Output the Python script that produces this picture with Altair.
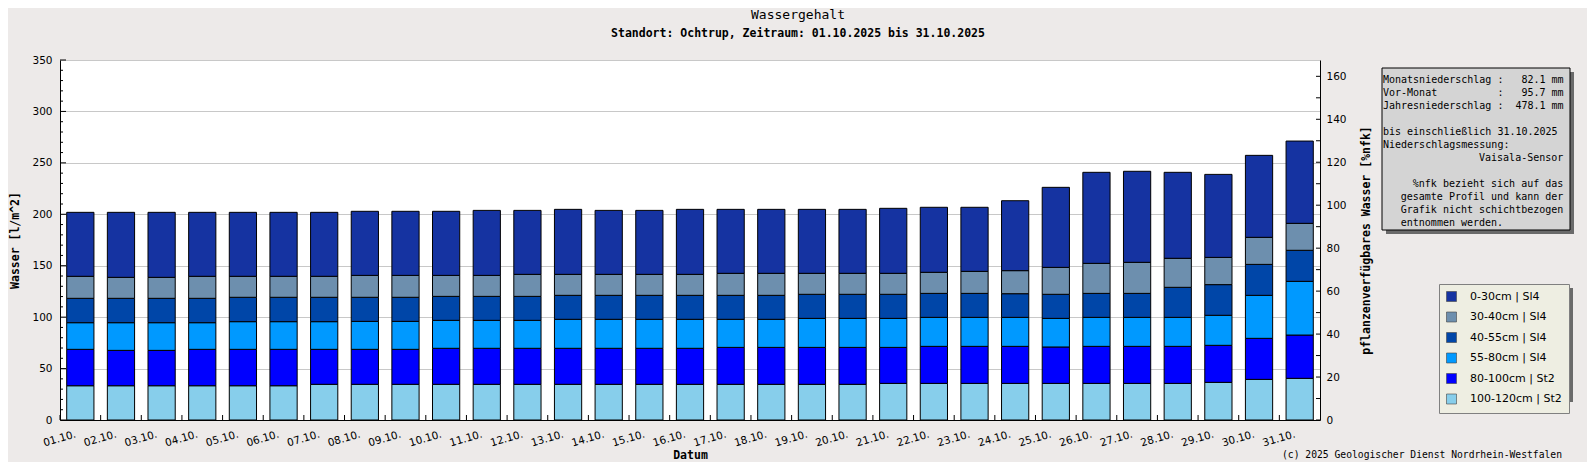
import altair as alt
import pandas as pd

# ---------------- data ----------------
days = ["01.10.", "02.10.", "03.10.", "04.10.", "05.10.", "06.10.", "07.10.", "08.10.",
        "09.10.", "10.10.", "11.10.", "12.10.", "13.10.", "14.10.", "15.10.", "16.10.",
        "17.10.", "18.10.", "19.10.", "20.10.", "21.10.", "22.10.", "23.10.", "24.10.",
        "25.10.", "26.10.", "27.10.", "28.10.", "29.10.", "30.10.", "31.10."]

legend_names = ["0-30cm | Sl4", "30-40cm | Sl4", "40-55cm | Sl4",
                "55-80cm | Sl4", "80-100cm | St2", "100-120cm | St2"]
layer_colors = ["#1533A1", "#6D8FAE", "#0046A8", "#0099FF", "#0000FF", "#87CEEB"]

# water per layer [l/m^2]
l0_30 = [62.2, 63.2, 63.2, 62.2, 62.2, 62.2, 62.2, 62.3, 62.3, 62.3, 63.2, 62.2, 63.2, 62.2, 62.2, 63.2,
         62.2, 62.2, 62.2, 62.2, 63.2, 63.2, 62.3, 68.0, 77.8, 88.5, 88.5, 83.6, 80.7, 79.7, 80.0]
l30_40 = [21.4, 20.4, 20.4, 21.4, 20.4, 20.4, 20.4, 21.3, 21.3, 20.4, 20.4, 21.4, 20.4, 20.4, 20.4, 20.4,
          21.4, 21.4, 20.4, 20.4, 20.4, 20.5, 21.4, 22.4, 26.2, 29.2, 30.2, 28.2, 26.5, 26.3, 26.2]
l40_55 = [23.7, 23.7, 23.7, 23.7, 23.7, 23.7, 23.7, 23.4, 23.4, 23.3, 23.3, 23.3, 23.3, 23.3, 23.3, 23.3,
          23.3, 23.3, 23.4, 23.4, 23.4, 23.3, 23.3, 23.0, 23.4, 23.3, 23.3, 29.2, 29.8, 30.1, 30.2]
l55_80 = [25.9, 26.9, 26.9, 25.9, 26.9, 26.9, 26.9, 27.2, 27.2, 27.2, 27.2, 27.2, 28.2, 28.2, 28.2, 28.2,
          27.3, 27.3, 28.2, 28.2, 28.2, 28.2, 28.2, 28.2, 27.8, 28.2, 28.2, 28.2, 29.2, 41.8, 52.2]
l80_100 = [35.4, 34.4, 34.4, 35.4, 35.4, 35.4, 34.0, 34.0, 34.0, 35.0, 35.0, 35.0, 35.0, 35.0, 35.0, 35.0,
           35.9, 35.9, 35.9, 35.9, 35.0, 36.0, 36.0, 36.0, 35.4, 36.0, 36.0, 36.0, 36.0, 39.9, 42.1]
l100_120 = [33.3, 33.3, 33.3, 33.3, 33.3, 33.3, 34.7, 34.7, 34.7, 34.7, 34.7, 34.7, 34.7, 34.7, 34.7, 34.7,
            34.7, 34.7, 34.7, 34.7, 35.6, 35.6, 35.6, 35.6, 35.6, 35.6, 35.6, 35.6, 36.6, 39.5, 40.5]

left_major = [0, 50, 100, 150, 200, 250, 300, 350]
left_minor = [10, 20, 30, 40, 60, 70, 80, 90, 110, 120, 130, 140, 160, 170, 180, 190,
              210, 220, 230, 240, 260, 270, 280, 290, 310, 320, 330, 340]
right_labels = [0, 20, 40, 60, 80, 100, 120, 140, 160]
right_ticks = [0, 10, 20, 30, 40, 50, 60, 70, 80, 90, 100, 110, 120, 130, 140, 150, 160]

info_block1 = ["Monatsniederschlag :   82.1 mm",
               "Vor-Monat          :   95.7 mm",
               "Jahresniederschlag :  478.1 mm"]
info_block2 = ["bis einschließlich 31.10.2025",
               "Niederschlagsmessung:"]
info_block3 = ["Vaisala-Sensor"]
info_block4 = ["%nfk bezieht sich auf das",
               "gesamte Profil und kann der",
               "Grafik nicht schichtbezogen"]
info_block5 = ["entnommen werden."]

# ---------------- build table ----------------
series_bottom_up = [l100_120, l80_100, l55_80, l40_55, l30_40, l0_30]
names_bottom_up = legend_names[::-1]
rows = []
for i, d in enumerate(days):
    for k, (name, vals) in enumerate(zip(names_bottom_up, series_bottom_up)):
        rows.append({"day": d, "layer": name, "value": vals[i], "ord": k})
df = pd.DataFrame(rows)

W, H = 1260, 360
STEP = W / len(days)
MONO = "DejaVu Sans Mono"
SANS = "DejaVu Sans"

x_scale = alt.Scale(domain=days, paddingInner=0, paddingOuter=0)
y_scale = alt.Scale(domain=[0, 350], nice=False, zero=True)
y2_scale = alt.Scale(domain=[0, 167.6], nice=False, zero=True)


def make_x_axis():
    return alt.Axis(
        title="Datum", labelAngle=344, labelAlign="right", labelBaseline="top",
        labelOffset=-6, labelPadding=9, ticks=False, grid=False, domainColor="black",
        labelFont=SANS, labelFontSize=10.5, labelColor="black", labelOverlap=False,
        titleFont=MONO, titleFontWeight="bold", titleFontSize=11.5, titleColor="black",
        titleY=38, titleBaseline="alphabetic",
    )


y_axis = alt.Axis(
    title="Wasser [l/m^2]", values=left_major, grid=True, gridColor="#C8C8C8",
    ticks=False, domainColor="black", labelFont=SANS, labelFontSize=10.5,
    labelColor="black", labelPadding=8,
    titleFont=MONO, titleFontWeight="bold", titleFontSize=11.5, titleColor="black",
    titleX=-45, titleY=180, titleAngle=270, titleAlign="center", titleBaseline="middle",
)
y2_axis = alt.Axis(
    orient="right", title="pflanzenverfügbares Wasser [%nfk]", values=right_labels,
    grid=False, ticks=False, domainColor="black", labelFont=SANS, labelFontSize=10.5,
    labelColor="black", labelPadding=6,
    titleFont=MONO, titleFontWeight="bold", titleFontSize=11.5, titleColor="black",
    titleX=46.5, titleY=180, titleAngle=270, titleAlign="center", titleBaseline="middle",
)

legend = alt.Legend(
    title=None, orient="none", legendX=1379, legendY=224, fillColor="#EEEEE2",
    strokeColor="#808080", padding=7, symbolType="square", symbolSize=100,
    symbolStrokeWidth=0.6, symbolStrokeColor="#444444", labelFont=SANS,
    labelFontSize=11, labelColor="black", labelOffset=13, rowPadding=7.5,
)

bars = alt.Chart(df).mark_bar(
    width=alt.RelativeBandSize(0.67), stroke="black", strokeWidth=1
).encode(
    x=alt.X("day:N", scale=x_scale, axis=make_x_axis()),
    y=alt.Y("value:Q", stack="zero", scale=y_scale, axis=y_axis),
    color=alt.Color("layer:N", scale=alt.Scale(domain=legend_names, range=layer_colors), legend=legend),
    order=alt.Order("ord:Q", sort="ascending"),
)

x_ticks = alt.Chart(pd.DataFrame({"day": days})).mark_rule(
    color="black", strokeWidth=1, xOffset=-STEP / 2
).encode(
    x=alt.X("day:N", scale=x_scale, axis=make_x_axis()),
    y=alt.value(H - 5), y2=alt.value(H),
)
maj_ticks = alt.Chart(pd.DataFrame({"v": left_major})).mark_rule(color="black").encode(
    y=alt.Y("v:Q", scale=y_scale, axis=None), x=alt.value(0), x2=alt.value(6),
)
min_ticks = alt.Chart(pd.DataFrame({"v": left_minor})).mark_rule(color="black").encode(
    y=alt.Y("v:Q", scale=y_scale, axis=None), x=alt.value(0), x2=alt.value(3),
)
right_rules = alt.Chart(pd.DataFrame({"v": right_ticks})).mark_rule(color="black").encode(
    y=alt.Y("v:Q", scale=y2_scale, axis=y2_axis), x=alt.value(W - 4), x2=alt.value(W),
)

one = pd.DataFrame({"a": [0]})


def txt(text, x, y, size=10, weight="normal", align="left", font=MONO):
    return alt.Chart(one).mark_text(
        text=text, font=font, fontSize=size, fontWeight=weight, lineHeight=13,
        color="black", align=align, baseline="alphabetic"
    ).encode(x=alt.value(x), y=alt.value(y))


title = txt("Wassergehalt", 738, -41.5, size=13, align="center")
subtitle = txt("Standort: Ochtrup, Zeitraum: 01.10.2025 bis 31.10.2025", 738, -22.7,
               size=11.5, weight="bold", align="center")

box_shadow = alt.Chart(one).mark_rect(fill="#6A6A6A").encode(
    x=alt.value(1326), x2=alt.value(1514), y=alt.value(12), y2=alt.value(174))
box = alt.Chart(one).mark_rect(fill="#D4D4D4", stroke="black", strokeWidth=1).encode(
    x=alt.value(1322), x2=alt.value(1510), y=alt.value(8), y2=alt.value(170))

TX_L, TX_R, Y0, LH = 1323, 1503.3, 22.7, 13
t1 = txt([s.replace(" ", "\u00a0") for s in info_block1], TX_L, Y0)
t2 = txt(info_block2, TX_L, Y0 + 4 * LH)
t3 = txt(info_block3, TX_R, Y0 + 6 * LH, align="right")
t4 = txt(info_block4, TX_R, Y0 + 8 * LH, align="right")
t5 = txt(info_block5, TX_R - 27 * 6.02, Y0 + 11 * LH)

legend_shadow = alt.Chart(one).mark_rect(fill="#6A6A6A").encode(
    x=alt.value(1383), x2=alt.value(1513), y=alt.value(228), y2=alt.value(342))

copyright_txt = txt("(c) 2025 Geologischer Dienst Nordrhein-Westfalen", 1502, 398, size=9.7, align="right")

chart = alt.layer(
    bars, x_ticks, maj_ticks, min_ticks, right_rules,
    title, subtitle, box_shadow, box, t1, t2, t3, t4, t5, legend_shadow, copyright_txt
).resolve_scale(y="independent").properties(
    width=W, height=H,
    padding={"left": 52, "top": 52, "right": 267, "bottom": 42},
    autosize=alt.AutoSizeParams(type="none"),
    background="#EDEAE9",
).configure_view(fill="white", strokeWidth=0)

chart.save("out.html", embed_options={"renderer": "svg", "actions": False})
